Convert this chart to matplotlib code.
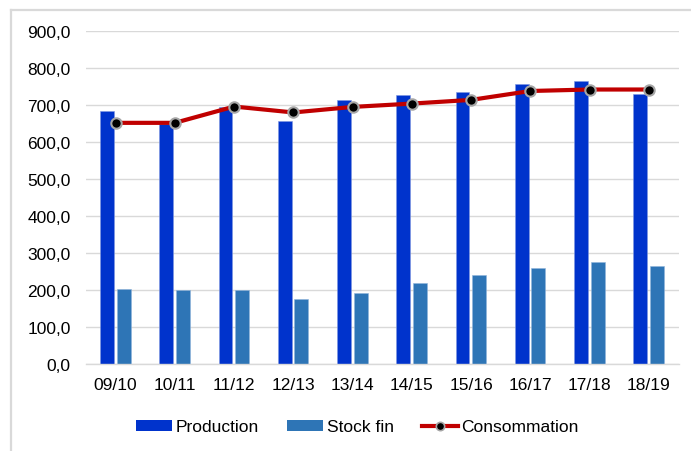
import matplotlib
matplotlib.use("Agg")
import matplotlib.pyplot as plt
from matplotlib.lines import Line2D
from matplotlib.patches import Patch
import numpy as np

categories = ["09/10", "10/11", "11/12", "12/13", "13/14", "14/15", "15/16", "16/17", "17/18", "18/19"]
production = [685, 649, 696, 658, 715, 726, 734, 756, 764, 731]
stock_fin = [203, 201, 201, 177, 193, 220, 241, 260, 276, 266]
consommation = [652, 652, 696, 680, 695, 704, 714, 738, 742, 742]
yticks = [0, 100, 200, 300, 400, 500, 600, 700, 800, 900]

plt.rcParams['font.family'] = ['Liberation Sans', 'DejaVu Sans']

W, H = 691, 452
FS = 12.5
fig = plt.figure(figsize=(W / 100, H / 100), dpi=100)
ax = fig.add_axes([86 / W, 1 - 365.3 / H, (678.5 - 86) / W, (365.3 - 32) / H])

x = np.arange(len(categories))
bw = 0.235
ax.bar(x - 0.145, production, width=bw, color="#0033CC", edgecolor="#7f97e0", linewidth=0.4, zorder=2)
ax.bar(x + 0.135, stock_fin, width=bw, color="#2E75B6", edgecolor="#8fb4da", linewidth=0.4, zorder=2)
ax.plot(x, consommation, color="#C00000", lw=3, marker="o", markersize=7.5,
        markerfacecolor="black", markeredgecolor="#A6A6A6", markeredgewidth=1.5, zorder=3)

ax.set_xlim(-0.5, len(categories) - 0.5)
ax.set_ylim(0, 900)
ax.set_yticks(yticks)
ax.set_yticklabels([f"{v:.1f}".replace(".", ",") for v in yticks])
ax.set_xticks(x)
ax.set_xticklabels(categories)
ax.tick_params(axis="both", length=0, labelsize=FS, colors="#000000")
ax.tick_params(axis="y", pad=11)
ax.tick_params(axis="x", pad=9)
ax.grid(axis="y", color="#D9D9D9", lw=1, zorder=0)
ax.set_axisbelow(True)
for s in ["top", "right", "left"]:
    ax.spines[s].set_visible(False)
ax.spines["bottom"].set_color("#D9D9D9")
ax.spines["bottom"].set_linewidth(1)

# outer chart border
fig.add_artist(Line2D([11 / W, 11 / W], [0, 1 - 11 / H], transform=fig.transFigure, color="#D9D9D9", lw=1.6))
fig.add_artist(Line2D([11 / W, 1], [1 - 11 / H, 1 - 11 / H], transform=fig.transFigure, color="#D9D9D9", lw=1.6))

handles = [
    Patch(facecolor="#0033CC", label="Production"),
    Patch(facecolor="#2E75B6", label="Stock fin"),
    Line2D([0], [0], color="#C00000", lw=3, marker="o", markersize=6,
           markerfacecolor="black", markeredgecolor="#A6A6A6", markeredgewidth=1.2, label="Consommation"),
]
fig.legend(handles=handles, loc="center", bbox_to_anchor=(357.5 / W, 1 - 428 / H), ncol=3,
           frameon=False, fontsize=FS, handlelength=2.1, handleheight=0.6,
           columnspacing=1.6, handletextpad=0.2)

fig.savefig("out.png", dpi=100)
